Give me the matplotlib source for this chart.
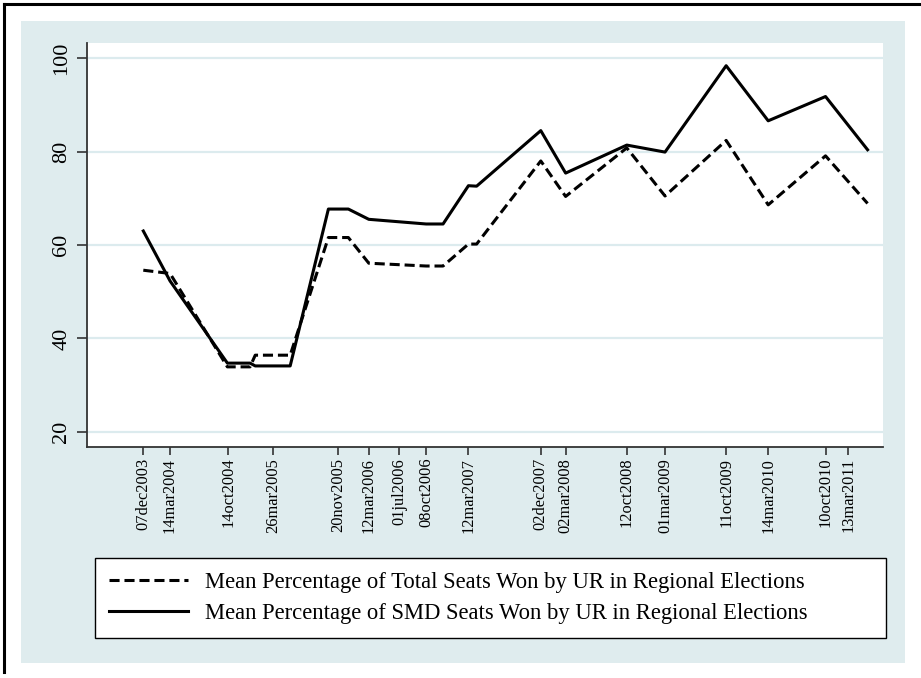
import matplotlib
matplotlib.use("Agg")
import matplotlib.pyplot as plt
import matplotlib.dates as mdates
from matplotlib.patches import Rectangle
from matplotlib.lines import Line2D
import pandas as pd

# ---- data ----
dates = ["2003-12-07", "2004-03-14", "2004-10-10", "2005-01-01", "2005-01-20",
         "2005-05-28", "2005-10-15", "2005-12-27", "2006-03-12", "2006-10-08",
         "2006-12-09", "2007-03-12", "2007-04-11", "2007-12-02", "2008-03-02",
         "2008-10-12", "2009-03-01", "2009-10-11", "2010-03-14", "2010-10-10",
         "2011-03-13"]
total_seats = [54.6, 53.9, 33.9, 33.9, 36.4,
               36.4, 61.6, 61.6, 56.1, 55.5,
               55.5, 60.2, 60.2, 78.0, 70.4,
               80.8, 70.5, 82.4, 68.6, 79.1,
               68.9]
smd_seats = [63.0, 52.3, 34.7, 34.7, 34.1,
             34.1, 67.7, 67.7, 65.5, 64.5,
             64.5, 72.7, 72.6, 84.5, 75.4,
             81.4, 79.9, 98.4, 86.6, 91.8,
             80.4]
tick_dates = ["2003-12-07", "2004-03-14", "2004-10-14", "2005-03-26", "2005-11-20",
              "2006-03-12", "2006-07-01", "2006-10-08", "2007-03-12", "2007-12-02",
              "2008-03-02", "2008-10-12", "2009-03-01", "2009-10-11", "2010-03-14",
              "2010-10-10", "2011-01-02"]
tick_labels = ["07dec2003", "14mar2004", "14oct2004", "26mar2005", "20nov2005",
               "12mar2006", "01jul2006", "08oct2006", "12mar2007", "02dec2007",
               "02mar2008", "12oct2008", "01mar2009", "11oct2009", "14mar2010",
               "10oct2010", "13mar2011"]
y_ticks = [20, 40, 60, 80, 100]
legend_labels = ["Mean Percentage of Total Seats Won by UR in Regional Elections",
                 "Mean Percentage of SMD Seats Won by UR in Regional Elections"]

plt.rcParams['font.family'] = ['Liberation Serif', 'DejaVu Serif']

W, H = 921, 678
fig = plt.figure(figsize=(W / 100, H / 100), dpi=100)
fig.patch.set_facecolor('white')

bg = '#dfecee'
grid_c = '#dcebee'
# outer light bluish region
rect = Rectangle((21 / W, 1 - 663 / H), (905 - 21) / W, (663 - 21) / H,
                 transform=fig.transFigure, facecolor=bg, edgecolor='none', zorder=-10)
fig.add_artist(rect)
# black frame (top & left)
fig.add_artist(Line2D([4 / W, 1.0], [1 - 4 / H, 1 - 4 / H], transform=fig.transFigure,
                      color='black', lw=2.2, zorder=-5))
fig.add_artist(Line2D([4 / W, 4 / W], [1 - 4 / H, 1 - 672 / H], transform=fig.transFigure,
                      color='black', lw=2.2, zorder=-5))

left, right, top, bottom = 86.7, 882.7, 43.3, 446.7
ax = fig.add_axes([left / W, 1 - bottom / H, (right - left) / W, (bottom - top) / H])
ax.set_zorder(5)
ax.set_facecolor('white')

x = pd.to_datetime(dates)
ax.plot(x, total_seats, color='black', lw=2.2, dashes=(3.3, 1.6), zorder=3,
        label=legend_labels[0])
ax.plot(x, smd_seats, color='black', lw=2.2, zorder=3, label=legend_labels[1])

x0 = pd.Timestamp("2003-12-07")
px_per_day = 0.2730
ax.set_xlim(mdates.date2num(x0) - (143.3 - left) / px_per_day,
            mdates.date2num(x0) + (right - 143.3) / px_per_day)
ax.set_ylim(16.8, 103.2)

ax.set_yticks(y_ticks)
ax.set_yticklabels([str(v) for v in y_ticks], rotation=90, va='center', fontsize=16)
ax.set_xticks(mdates.date2num(pd.to_datetime(tick_dates)))
ax.set_xticklabels(tick_labels, rotation=90, fontsize=11.8)

ax.grid(axis='y', color=grid_c, lw=1.6, zorder=1)
ax.grid(axis='x', visible=False)
for s in ['top', 'right']:
    ax.spines[s].set_visible(False)
for s in ['left', 'bottom']:
    ax.spines[s].set_color('#333333')
    ax.spines[s].set_linewidth(1.3)
ax.tick_params(axis='y', length=7, width=1.2, color='#333333', pad=4)
ax.tick_params(axis='x', length=6, width=1.2, color='#333333', pad=2)

leg = ax.legend(loc='upper left', bbox_to_anchor=(95 / W, 1 - 640 / H, (886 - 95) / W, (640 - 558) / H),
                bbox_transform=fig.transFigure, mode='expand', borderaxespad=0,
                fontsize=16.3, frameon=True, fancybox=False, edgecolor='black', framealpha=1,
                handlelength=3.5, handletextpad=0.75, labelspacing=0.45, borderpad=0.62)
leg.get_frame().set_linewidth(1.0)
leg.get_frame().set_facecolor('white')

fig.savefig('out.png', dpi=100, facecolor='white')
